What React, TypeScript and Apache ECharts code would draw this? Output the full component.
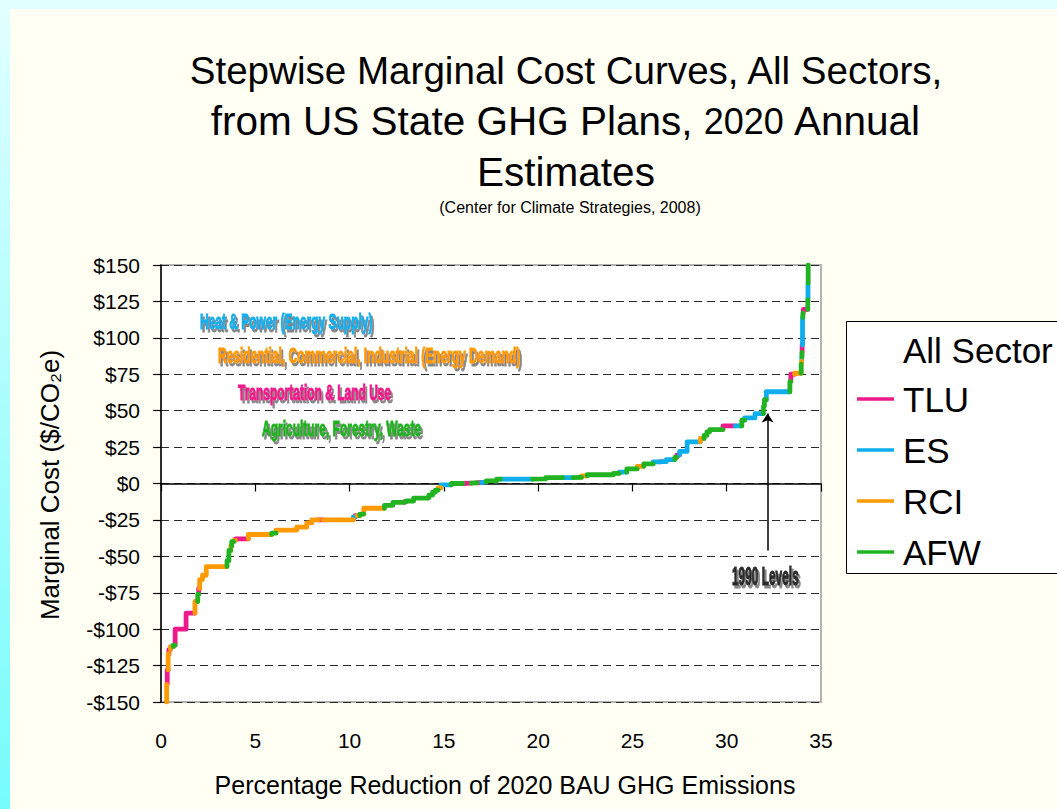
import React, { useEffect, useRef } from "react";
import * as echarts from "echarts";

// ---- data ----
const sectors = ["TLU", "ES", "RCI", "AFW"];
const sectorColors: Record<string, string> = {
  TLU: "#EE1A8C",
  ES: "#0EAEEC",
  RCI: "#FF9A00",
  AFW: "#22B322",
};
const startX = 0.3;
const startCost = -150;
// Each step: cumulative % reduction at its right end, marginal cost ($/tCO2e), sector
const stepEndX = [
  0.33, 0.38, 0.42, 0.5, 0.65, 0.75, 1.33, 1.8, 1.95, 2.0, 2.05, 2.2, 2.4, 3.5, 3.6, 3.7, 3.75, 3.85, 3.95, 4.63,
  5.87, 6.1, 7.2, 7.73, 8.0, 8.35, 8.6, 10.2, 10.3, 10.4, 10.55, 10.75, 11.85, 12.3, 12.9, 13.0, 13.4, 14.2, 14.4,
  14.55, 14.7, 14.85, 15.4, 16.0, 16.45, 16.75, 17.0, 17.25, 17.8, 18.0, 19.7, 20.4, 21.3, 21.85, 22.3, 22.6, 24.0,
  24.3, 24.7, 25.25, 25.6, 26.1, 26.45, 26.55, 26.8, 27.25, 27.35, 27.5, 27.9, 28.6, 28.8, 28.95, 29.1, 29.8, 30.45,
  30.8, 30.95, 31.5, 31.95, 32.0, 32.1, 33.35, 33.4, 33.6, 33.95, 33.97, 33.98, 33.99, 34.0, 34.02, 34.04, 34.06,
  34.3, 34.31, 34.32, 34.33,
];
const stepCost = [
  -138, -128, -117, -114, -112, -111, -100, -89, -81, -76, -72, -66, -63, -57, -53, -46, -43, -40, -39, -38,
  -35, -34, -32, -30, -27, -25, -25, -25, -23, -22, -22, -21, -17, -15, -13, -12.5, -12, -10, -8,
  -6, -4.5, -3, -1, 0, 0.3, 0.5, 0.7, 1, 1.8, 3, 3, 3.2, 4, 4, 4.2, 5.3, 6,
  7, 7.8, 10, 11.8, 13.5, 14.8, 15, 15, 16.4, 18, 19.5, 22, 28.6, 30.9, 33, 35.5, 37, 39.5,
  39.5, 43.5, 45, 48, 53, 57.5, 63, 70, 75, 75.7, 82, 84, 87, 90, 95, 114, 117,
  119.5, 126, 137.6, 150,
];
const stepSector = [
  "RCI", "TLU", "RCI", "TLU", "RCI", "AFW", "TLU", "TLU", "RCI", "AFW", "TLU", "RCI", "RCI", "RCI", "AFW", "AFW", "RCI", "AFW", "RCI", "TLU",
  "RCI", "AFW", "RCI", "RCI", "RCI", "RCI", "TLU", "RCI", "ES", "TLU", "RCI", "AFW", "RCI", "AFW", "AFW", "TLU", "AFW", "AFW", "AFW",
  "AFW", "AFW", "RCI", "ES", "AFW", "TLU", "AFW", "TLU", "ES", "AFW", "AFW", "ES", "AFW", "AFW", "ES", "AFW", "RCI", "AFW",
  "AFW", "ES", "AFW", "RCI", "AFW", "ES", "TLU", "ES", "ES", "AFW", "TLU", "ES", "ES", "RCI", "AFW", "AFW", "AFW", "TLU",
  "ES", "AFW", "ES", "ES", "AFW", "AFW", "ES", "AFW", "TLU", "RCI", "AFW", "RCI", "ES", "AFW", "TLU", "ES", "AFW",
  "TLU", "AFW", "ES", "AFW",
];
const levels1990X = 32.17;
const levels1990From = -46;
const levels1990To = 48;

const xMin = 0, xMax = 35, xStep = 5;
const yMin = -150, yMax = 150, yStep = 25;

const titleLines = ["Stepwise Marginal Cost Curves, All Sectors,", "from US State GHG Plans, {s|2020} Annual", "Estimates"];
const titleSizes = [38.6, 40.5, 40.5];
const subtitle = "(Center for Climate Strategies, 2008)";
const xTitle = "Percentage Reduction of 2020 BAU GHG Emissions";
const yTitle = "Marginal Cost ($/CO₂e)";
const legendTitle = "All Sector";
const annotations = [
  { text: "Heat & Power (Energy Supply)", color: "#12AEEB", x: 200, y: 322 },
  { text: "Residential, Commercial, Industrial (Energy Demand)", color: "#FF9900", x: 218, y: 356 },
  { text: "Transportation & Land Use", color: "#F0198C", x: 238, y: 393 },
  { text: "Agriculture, Forestry, Waste", color: "#1FB21F", x: 262, y: 429 },
];
const levelsLabel = "1990 Levels";

const FONT = "'Liberation Sans', Arial, Helvetica, sans-serif";

function buildSeriesData(sector: string) {
  const out: any[] = [];
  let px = startX;
  let pc = startCost;
  for (let i = 0; i < stepEndX.length; i++) {
    const x = stepEndX[i];
    const c = stepCost[i];
    if (stepSector[i] === sector) {
      out.push([px, pc], [px, c], [x, c], [x, null]);
    }
    px = x;
    pc = c;
  }
  return out;
}

function fmtCost(v: number) {
  return v < 0 ? "-$" + Math.abs(v) : "$" + v;
}

export default function App() {
  const ref = useRef<HTMLDivElement>(null);
  useEffect(() => {
    const chart = echarts.init(ref.current!, null, { renderer: "svg" });
    const series: any[] = sectors.map((s) => ({
      name: s,
      type: "line",
      xAxisIndex: 0,
      yAxisIndex: 0,
      data: buildSeriesData(s),
      showSymbol: false,
      symbol: "none",
      connectNulls: false,
      lineStyle: { color: sectorColors[s], width: 4.8, cap: "round", join: "round" },
      itemStyle: { color: sectorColors[s] },
      z: 3,
    }));
    series[0].markLine = {
      silent: true,
      symbol: ["none", "arrow"],
      symbolSize: 9,
      label: { show: false },
      lineStyle: { color: "#000", width: 1.5, type: "solid" },
      data: [[{ coord: [levels1990X, levels1990From] }, { coord: [levels1990X, levels1990To] }]],
    };

    const shadow = {
      textShadowColor: "rgba(105,105,105,0.8)",
      textShadowBlur: 1,
      textShadowOffsetX: 2,
      textShadowOffsetY: 3,
    };
    const legendRows = sectors.map((s, i) => ({ s, y: 399 + i * 51 }));
    const graphic: any[] = [
      ...titleLines.map((t, i) => ({
        type: "text",
        x: 566,
        y: 70 + i * 51,
        style: {
          text: t,
          fontSize: titleSizes[i],
          fontFamily: FONT,
          fill: "#000",
          align: "center",
          verticalAlign: "middle",
          textAlign: "center",
          textVerticalAlign: "middle",
          rich: { s: { fontSize: 36, fontFamily: FONT, fill: "#000" } },
        },
      })),
      {
        type: "text",
        x: 570,
        y: 207,
        style: { text: subtitle, fontSize: 16, fontFamily: FONT, fill: "#000", align: "center", verticalAlign: "middle", textAlign: "center", textVerticalAlign: "middle" },
      },
      {
        type: "text",
        x: 505,
        y: 785,
        style: { text: xTitle, fontSize: 25, fontFamily: FONT, fill: "#000", align: "center", verticalAlign: "middle", textAlign: "center", textVerticalAlign: "middle" },
      },
      {
        type: "text",
        x: 50,
        y: 485,
        rotation: Math.PI / 2,
        style: { text: yTitle, fontSize: 26, fontFamily: FONT, fill: "#000", align: "center", verticalAlign: "middle", textAlign: "center", textVerticalAlign: "middle" },
      },
      ...annotations.map((a) => ({
        type: "text",
        x: a.x,
        y: a.y,
        scaleX: 0.8,
        scaleY: 1.42,
        z: 10,
        style: {
          text: a.text,
          fontSize: 15,
          fontWeight: "bold",
          fontFamily: FONT,
          fill: a.color,
          stroke: a.color,
          lineWidth: 0.7,
          align: "left",
          verticalAlign: "middle",
          textAlign: "left",
          textVerticalAlign: "middle",
          ...shadow,
        },
      })),
      {
        type: "text",
        x: 732,
        y: 576,
        scaleX: 0.7,
        scaleY: 1.5,
        z: 10,
        style: {
          text: levelsLabel,
          fontSize: 17,
          fontWeight: "bold",
          fontFamily: FONT,
          fill: "#2B2B2B",
          stroke: "#2B2B2B",
          lineWidth: 0.7,
          align: "left",
          verticalAlign: "middle",
          textAlign: "left",
          textVerticalAlign: "middle",
          ...shadow,
        },
      },
      {
        type: "rect",
        shape: { x: 846.5, y: 321.5, width: 240, height: 252 },
        style: { fill: "#fff", stroke: "#000", lineWidth: 1 },
        z: 5,
      },
      {
        type: "text",
        x: 903,
        y: 350,
        z: 6,
        style: { text: legendTitle, fontSize: 35, fontFamily: FONT, fill: "#000", align: "left", verticalAlign: "middle", textAlign: "left", textVerticalAlign: "middle" },
      },
      ...legendRows.map((r) => ({
        type: "line",
        z: 6,
        shape: { x1: 857, y1: r.y, x2: 894, y2: r.y },
        style: { stroke: sectorColors[r.s], lineWidth: 3.5 },
      })),
      ...legendRows.map((r) => ({
        type: "text",
        x: 903,
        y: r.y,
        z: 6,
        style: { text: r.s, fontSize: 35, fontFamily: FONT, fill: "#000", align: "left", verticalAlign: "middle", textAlign: "left", textVerticalAlign: "middle" },
      })),
    ];

    chart.setOption({
      animation: false,
      backgroundColor: "transparent",
      textStyle: { fontFamily: FONT },
      grid: {
        left: 161,
        top: 265,
        width: 660,
        height: 437,
        show: true,
        backgroundColor: "#ffffff",
        borderColor: "#9a9a9a",
        borderWidth: 1.5,
        containLabel: false,
      },
      xAxis: [
        {
          type: "value",
          min: xMin,
          max: xMax,
          interval: xStep,
          position: "bottom",
          axisLine: { show: false, onZero: false },
          axisTick: { show: false },
          splitLine: { show: false },
          axisLabel: { fontSize: 21, color: "#000", margin: 28, fontFamily: FONT },
        },
        {
          type: "value",
          min: xMin,
          max: xMax,
          interval: xStep,
          position: "bottom",
          axisLine: { show: true, onZero: true, lineStyle: { color: "#000", width: 1.5 } },
          axisTick: { show: true, length: 8, lineStyle: { color: "#000", width: 1.2 } },
          axisLabel: { show: false },
          splitLine: { show: false },
        },
      ],
      yAxis: {
        type: "value",
        min: yMin,
        max: yMax,
        interval: yStep,
        axisLine: { show: true, onZero: false, lineStyle: { color: "#000", width: 1.5 } },
        axisTick: { show: true, length: 8, lineStyle: { color: "#000", width: 1.2 } },
        axisLabel: { fontSize: 21, color: "#000", margin: 21, fontFamily: FONT, formatter: (v: number) => fmtCost(v) },
        splitLine: { show: true, lineStyle: { color: "#2a2a2a", width: 1.2, type: [8, 5] } },
      },
      series,
      graphic,
    });
    return () => chart.dispose();
  }, []);

  return (
    <div
      style={{
        position: "fixed",
        left: 0,
        top: 0,
        width: 1057,
        height: 809,
        overflow: "hidden",
        background: "linear-gradient(#E2FFFF, #76FCFC)",
      }}
    >
      <div style={{ position: "absolute", left: 10, top: 9, right: 0, bottom: 0, background: "#FFFFF4" }} />
      <div ref={ref} style={{ position: "absolute", left: 0, top: 0, width: 1057, height: 809 }} />
    </div>
  );
}
